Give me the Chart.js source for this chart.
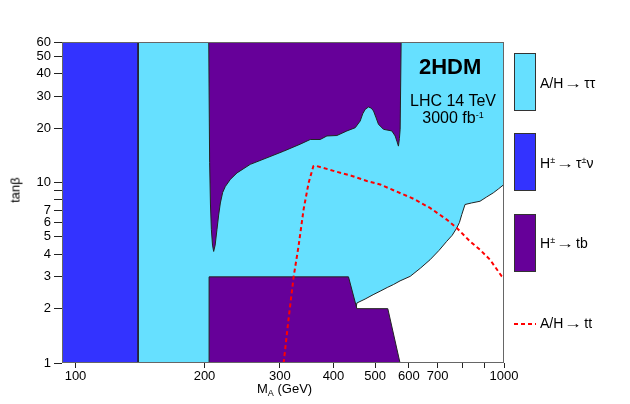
<!DOCTYPE html>
<html>
<head>
<meta charset="utf-8">
<script src="https://cdn.jsdelivr.net/npm/chart.js@4.4.0/dist/chart.umd.min.js"></script>
<style>
  body { margin: 0; background: #fff; }
  #wrap { position: relative; width: 630px; height: 404px; font-family: "Liberation Sans", Arial, sans-serif; color: #000; }
  #wrap canvas { position: absolute; left: 0; top: 0; }
  .lbl { position: absolute; white-space: nowrap; line-height: 1; }
  .box { position: absolute; left: 514px; width: 20px; height: 56px; border: 1px solid #333; }
  .leg { position: absolute; left: 540px; font-size: 14px; white-space: nowrap; transform: translateY(-50%); }
  .arr { display: inline-block; transform: scaleX(1.3); margin: 0 4px 0 3px; }
  sup { font-size: 9px; vertical-align: 5px; line-height: 0; }
  sub { font-size: 9px; vertical-align: -3px; line-height: 0; }
</style>
</head>
<body>
<div id="wrap">
  <canvas id="chart" width="630" height="404"></canvas>

  <div class="lbl" style="left:419px; top:56px; font-size:22px; font-weight:bold;">2HDM</div>
  <div class="lbl" style="left:406px; top:92px; font-size:16px; text-align:center; width:94px; line-height:17px;">LHC 14 TeV<br>3000 fb<sup>-1</sup></div>

  <div class="box" style="top:53px; background:#66e0ff;"></div>
  <div class="box" style="top:133px; background:#3333ff;"></div>
  <div class="box" style="top:214px; background:#660099;"></div>
  <svg style="position:absolute; left:514px; top:322px;" width="22" height="4">
    <line x1="0" y1="2" x2="22" y2="2" stroke="#ff0000" stroke-width="2" stroke-dasharray="4,3"/>
  </svg>
  <div class="leg" style="top:83px;">A/H<span class="arr">&rarr;</span>&tau;&tau;</div>
  <div class="leg" style="top:163px;">H<sup>&plusmn;</sup><span class="arr">&rarr;</span>&tau;<sup>&plusmn;</sup>&nu;</div>
  <div class="leg" style="top:243px;">H<sup>&plusmn;</sup><span class="arr">&rarr;</span>tb</div>
  <div class="leg" style="top:323px;">A/H<span class="arr">&rarr;</span>tt</div>

  <div class="lbl" style="left:257px; top:382px; font-size:13px;">M<sub>A</sub> (GeV)</div>
  <div class="lbl" style="left:15px; top:190px; font-size:13px; transform: translate(-50%,-50%) rotate(-90deg);">tan&beta;</div>
</div>

<script>
// axis ranges and ticks
const massMin = 93, massMax = 1000;
const tanbMin = 1, tanbMax = 60;
const massTicks = [100, 200, 300, 400, 500, 600, 700, 800, 900, 1000];
const massLabels = [100, 200, 300, 400, 500, 600, 700, 1000];
const tanbTicks = [1, 2, 3, 4, 5, 6, 7, 8, 9, 10, 20, 30, 40, 50, 60];
const tanbLabels = [1, 2, 3, 4, 5, 6, 7, 10, 20, 30, 40, 50, 60];

// H+- -> tau nu (fills down to tanb = 1)
const tauNuMass = [93, 140];
const tauNuTanb = [60, 60];

// A/H -> tautau lower edge (fills up to the top)
const tautauMass = [140, 140, 430, 453.6, 474, 495, 514, 534, 552, 572, 604, 638, 672, 705, 735, 757, 776, 787, 797, 811, 840, 879, 910, 944, 970, 1000];
const tautauTanb = [60, 1, 1, 2.15, 2.26, 2.39, 2.5, 2.62, 2.72, 2.85, 3.02, 3.35, 3.73, 4.2, 4.72, 5.1, 5.6, 6.0, 6.64, 7.55, 7.7, 7.87, 8.3, 8.76, 9.2, 9.75];

// H+- -> tb, high tanb region lower edge (fills up to the top)
const tbHighMass = [204.6, 205.6, 206.5, 207.5, 208.8, 210.1, 211.8, 213.9, 215.8, 217.8, 220.5, 223.7, 229.8, 238.2, 255.8, 279.8, 305.9, 334.5, 353, 372.4, 386.1, 407.4, 429.9, 449.5, 461.7, 468, 474.3, 482.8, 490, 496, 503, 509.4, 523.3, 547.3, 557.2, 563, 567.1, 570, 572.3, 575.4];
const tbHighTanb = [60, 12.9, 7.6, 5.5, 4.5, 4.15, 4.5, 5.5, 6.6, 7.7, 8.8, 9.5, 10.4, 11.3, 12.6, 13.7, 14.9, 16.3, 17.3, 17.3, 18.1, 18.2, 19.3, 20.1, 21.9, 24.0, 25.4, 26.2, 25.8, 24.9, 22.8, 21.0, 19.7, 19.3, 18.1, 16.8, 15.9, 17.5, 19.7, 60];

// H+- -> tb, low tanb region upper edge (fills down to tanb = 1)
const tbLowMass = [205, 205, 433.6, 453.6, 535.6, 572];
const tbLowTanb = [1, 3, 3, 2, 2, 1];

// A/H -> tt
const ttMass = [306, 314, 323, 331.5, 340.6, 350, 359, 362.5, 400, 440, 478.6, 514, 552, 615, 672, 735, 776, 833, 879, 928, 988, 1000];
const ttTanb = [1, 1.73, 3.02, 4.43, 7.08, 9.96, 12.3, 12.4, 11.6, 10.9, 10.2, 9.75, 9.06, 8.12, 7.23, 6.23, 5.6, 4.72, 4.24, 3.73, 3.02, 2.95];

const pts = (xs, ys) => xs.map((x, i) => ({ x: x, y: ys[i] }));

const frame = {
  id: 'frame',
  afterDatasetsDraw(chart) {
    const a = chart.chartArea, c = chart.ctx;
    c.save();
    c.strokeStyle = '#666';
    c.lineWidth = 1;
    c.strokeRect(a.left + 0.5, a.top + 0.5, a.right - a.left - 1, a.bottom - a.top - 1);
    c.restore();
  }
};

const region = (data, color, fill, order, bw) => ({
  data: data,
  backgroundColor: color,
  borderColor: '#222',
  borderWidth: bw,
  fill: fill,
  pointRadius: 0,
  tension: 0,
  order: order
});

new Chart(document.getElementById('chart'), {
  type: 'line',
  data: {
    datasets: [
      {
        data: pts(ttMass, ttTanb),
        borderColor: '#ff0000',
        borderWidth: 2,
        borderDash: [4, 3],
        fill: false,
        pointRadius: 0,
        order: 0
      },
      region(pts(tbHighMass, tbHighTanb), '#660099', 'end', 1, 1),
      region(pts(tbLowMass, tbLowTanb), '#660099', 'start', 2, 1),
      region(pts(tautauMass, tautauTanb), '#66e0ff', 'end', 3, 1),
      region(pts(tauNuMass, tauNuTanb), '#3333ff', 'start', 4, 0)
    ]
  },
  options: {
    responsive: false,
    animation: false,
    layout: { padding: { left: 0, right: 126, top: 42, bottom: 0 } },
    plugins: { legend: { display: false }, tooltip: { enabled: false } },
    scales: {
      x: {
        type: 'logarithmic',
        min: massMin,
        max: massMax,
        afterBuildTicks: axis => { axis.ticks = massTicks.map(v => ({ value: v })); },
        afterFit: scale => { scale.height = 41; },
        border: { display: false },
        grid: { drawOnChartArea: false, drawTicks: true, tickLength: 5, color: '#222' },
        ticks: {
          autoSkip: false,
          maxRotation: 0,
          padding: 1,
          color: '#000',
          font: { family: 'Liberation Sans', size: 13 },
          callback: v => massLabels.includes(v) ? String(v) : ''
        }
      },
      y: {
        type: 'logarithmic',
        min: tanbMin,
        max: tanbMax,
        afterBuildTicks: axis => { axis.ticks = tanbTicks.map(v => ({ value: v })); },
        afterFit: scale => { scale.width = 62; },
        border: { display: false },
        grid: { drawOnChartArea: false, drawTicks: true, tickLength: 8, color: '#222' },
        ticks: {
          autoSkip: false,
          padding: 3,
          color: '#000',
          font: { family: 'Liberation Sans', size: 13 },
          callback: v => tanbLabels.includes(v) ? String(v) : ''
        }
      }
    }
  },
  plugins: [frame]
});
</script>
</body>
</html>
